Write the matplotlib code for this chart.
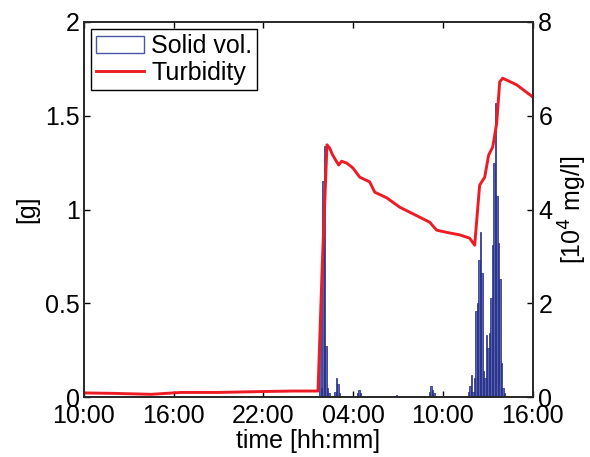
import matplotlib
matplotlib.use("Agg")
import matplotlib.pyplot as plt

plt.rcParams['font.family'] = ['Liberation Sans', 'DejaVu Sans']
plt.rcParams['font.size'] = 18

# hours since 10:00 on day 1
tick_labels = ['10:00', '16:00', '22:00', '04:00', '10:00', '16:00']
tick_hours = [0, 6, 12, 18, 24, 30]

# solid volume [g], 6-min bins
solid_t = [15.8, 15.9, 16.0, 16.1, 16.2, 16.3, 16.4,
           16.8, 16.9, 17.0, 17.1, 18.3, 18.4, 18.5, 20.9, 22.3,
           23.1, 23.2, 23.3, 23.4,
           25.7, 25.8, 25.9, 26.0, 26.1, 26.2, 26.3, 26.4, 26.5, 26.6,
           26.7, 26.8, 26.9, 27.0, 27.1, 27.2, 27.3, 27.4, 27.5, 27.6,
           27.7, 27.8, 27.9, 28.0, 28.1]
solid_g = [0.42, 0.05, 1.15, 1.34, 0.27, 0.05, 0.02,
           0.03, 0.10, 0.07, 0.02, 0.02, 0.04, 0.02, 0.01, 0.005,
           0.03, 0.06, 0.04, 0.02,
           0.03, 0.06, 0.12, 0.03, 0.10, 0.46, 0.50, 0.73, 0.88, 0.66,
           0.14, 0.10, 0.33, 0.26, 0.34, 0.53, 0.81, 1.25, 1.57, 1.07,
           0.82, 0.63, 0.18, 0.05, 0.02]

# turbidity [10^4 mg/l]
turb_t = [0, 2, 4.5, 6.5, 9, 12, 14, 15.65, 15.94, 16.25, 16.43, 16.63,
          17.03, 17.23, 17.57, 17.97, 18.44, 19.1, 19.44, 20.24, 21.11,
          23.11, 23.58, 24.45, 25.12, 25.78, 26.12, 26.45, 26.79, 27.05,
          27.32, 27.59, 27.79, 27.99, 28.92, 30]
turb_v = [0.09, 0.08, 0.06, 0.10, 0.10, 0.12, 0.13, 0.13, 2.86, 5.38, 5.31, 5.16,
          4.95, 5.03, 4.99, 4.89, 4.69, 4.59, 4.37, 4.25, 4.05,
          3.73, 3.56, 3.50, 3.46, 3.39, 3.24, 4.52, 4.69, 5.16,
          5.33, 5.84, 6.72, 6.80, 6.66, 6.40]

fig = plt.figure(figsize=(5.9, 4.57), dpi=100)
ax = fig.add_axes([0.142, 0.131, 0.761, 0.821])
ax2 = ax.twinx()

bars = ax.bar(solid_t, solid_g, width=0.1, align='center',
              facecolor='#5862b0', edgecolor='#1c2680', linewidth=0.5)
line, = ax2.plot(turb_t, turb_v, color='#ed1c24', linewidth=2.1)

ax.set_xlim(0, 30)
ax.set_ylim(0, 2)
ax2.set_ylim(0, 8)
ax.set_xticks(tick_hours)
ax.set_xticklabels(tick_labels)
ax.set_yticks([0, 0.5, 1, 1.5, 2])
ax.set_yticklabels(['0', '0.5', '1', '1.5', '2'])
ax2.set_yticks([0, 2, 4, 6, 8])

ax.tick_params(axis='x', direction='in', length=4, width=1, top=True, pad=5)
ax.tick_params(axis='y', direction='in', length=4, width=1, pad=3)
ax2.tick_params(direction='in', length=4, width=1, pad=4)
for a in (ax, ax2):
    for s in a.spines.values():
        s.set_linewidth(1.2)
        s.set_color('#262626')

ax.set_xlabel('time [hh:mm]', labelpad=1)
ax.set_ylabel('[g]', labelpad=4)
ax2.set_ylabel('[10$^4$ mg/l]', labelpad=3)

legend_patch = plt.Rectangle((0, 0), 1, 1, facecolor='white', edgecolor='#4b55a8')
ax2.legend([legend_patch, line], ['Solid vol.', 'Turbidity'], loc='upper left',
           fancybox=False, edgecolor='black', framealpha=1,
           borderpad=0.2, handlelength=1.9, handletextpad=0.3,
           labelspacing=0.1, borderaxespad=0.3)

fig.savefig('out.png', dpi=100)
